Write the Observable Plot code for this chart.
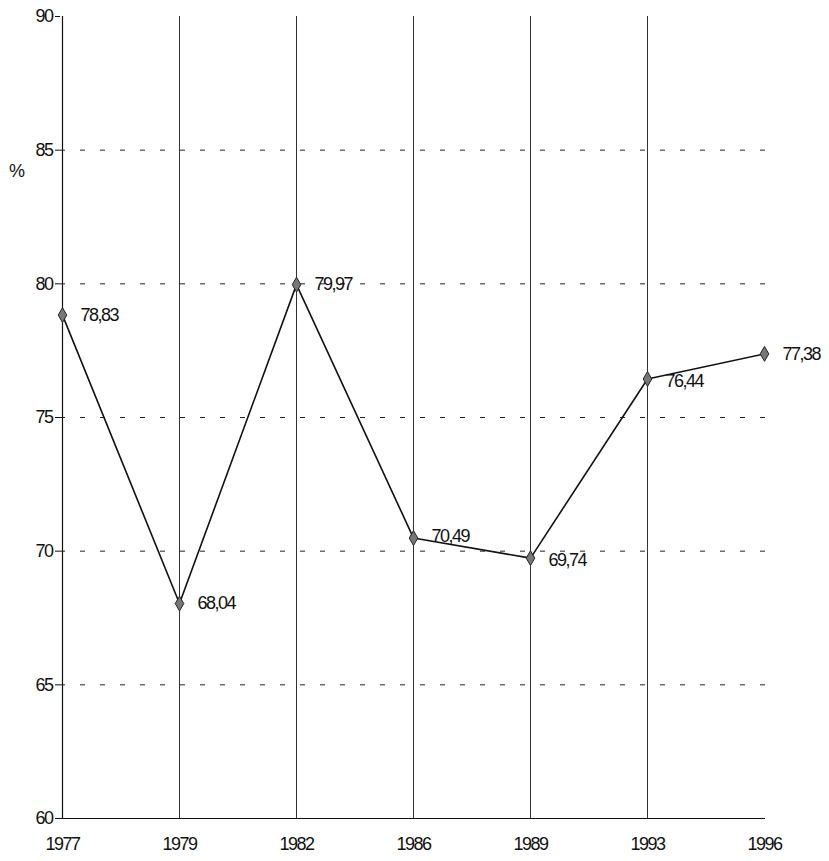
<!DOCTYPE html>
<html>
<head>
<meta charset="utf-8">
<script src="https://cdn.jsdelivr.net/npm/d3@7"></script>
<script src="https://cdn.jsdelivr.net/npm/@observablehq/plot@0.6"></script>
<style>
  html, body { margin: 0; padding: 0; background: #fff; }
  #chart { position: relative; width: 829px; height: 861px; }
  #chart svg { font-family: "Liberation Sans", Arial, sans-serif; letter-spacing: -1.5px; }
  #ylab { position: absolute; left: 9px; top: 161px; font: 18px "Liberation Sans", Arial, sans-serif; color: #111; }
</style>
</head>
<body>
<div id="chart"><div id="ylab">%</div></div>
<script>
const years = ["1977", "1979", "1982", "1986", "1989", "1993", "1996"];
const values = [78.83, 68.04, 79.97, 70.49, 69.74, 76.44, 77.38];
const labels = ["78,83", "68,04", "79,97", "70,49", "69,74", "76,44", "77,38"];
const labelDy = [0, 0, 0, -2, 2, 2, 0];
const yTicks = [60, 65, 70, 75, 80, 85, 90];
const dashedLevels = [65, 70, 75, 80, 85];
const gridYears = ["1979", "1982", "1986", "1989", "1993"];

const data = years.map((y, i) => ({year: y, value: values[i], label: labels[i], dy: labelDy[i]}));

const chart = Plot.plot({
  width: 829,
  height: 861,
  marginLeft: 60,
  marginRight: 64,
  marginTop: 16,
  marginBottom: 43,
  style: {fontSize: "18px", color: "#111", background: "#fff"},
  x: {type: "point", domain: years, padding: 0, label: null, axis: null},
  y: {domain: [60, 90], label: null, axis: null},
  marks: [
    Plot.ruleY(dashedLevels, {stroke: "#222", strokeWidth: 1, strokeDasharray: "5,15"}),
    Plot.ruleX(gridYears, {x: d => d, y1: 60, y2: 90, stroke: "#333", strokeWidth: 1}),
    Plot.ruleY([60], {stroke: "#111", strokeWidth: 1.2}),
    Plot.ruleX(["1977"], {x: d => d, y1: 60, y2: 90, stroke: "#111", strokeWidth: 1.2}),
    Plot.axisY(yTicks, {tickSize: 5, tickPadding: 3, fontSize: 18, stroke: "#111"}),
    Plot.axisX(years, {tickSize: 0, tickPadding: 19, fontSize: 18}),
    Plot.line(data, {x: "year", y: "value", stroke: "#111", strokeWidth: 1.6}),
    Plot.dot(data, {x: "year", y: "value", symbol: "diamond", r: 4.5, fill: "#777", stroke: "#222", strokeWidth: 1}),
    ...data.map(d => Plot.text([d], {x: "year", y: "value", text: "label", textAnchor: "start", dx: 18, dy: d.dy, fontSize: 18, fill: "#111"}))
  ]
});
document.getElementById("chart").appendChild(chart);
</script>
</body>
</html>
